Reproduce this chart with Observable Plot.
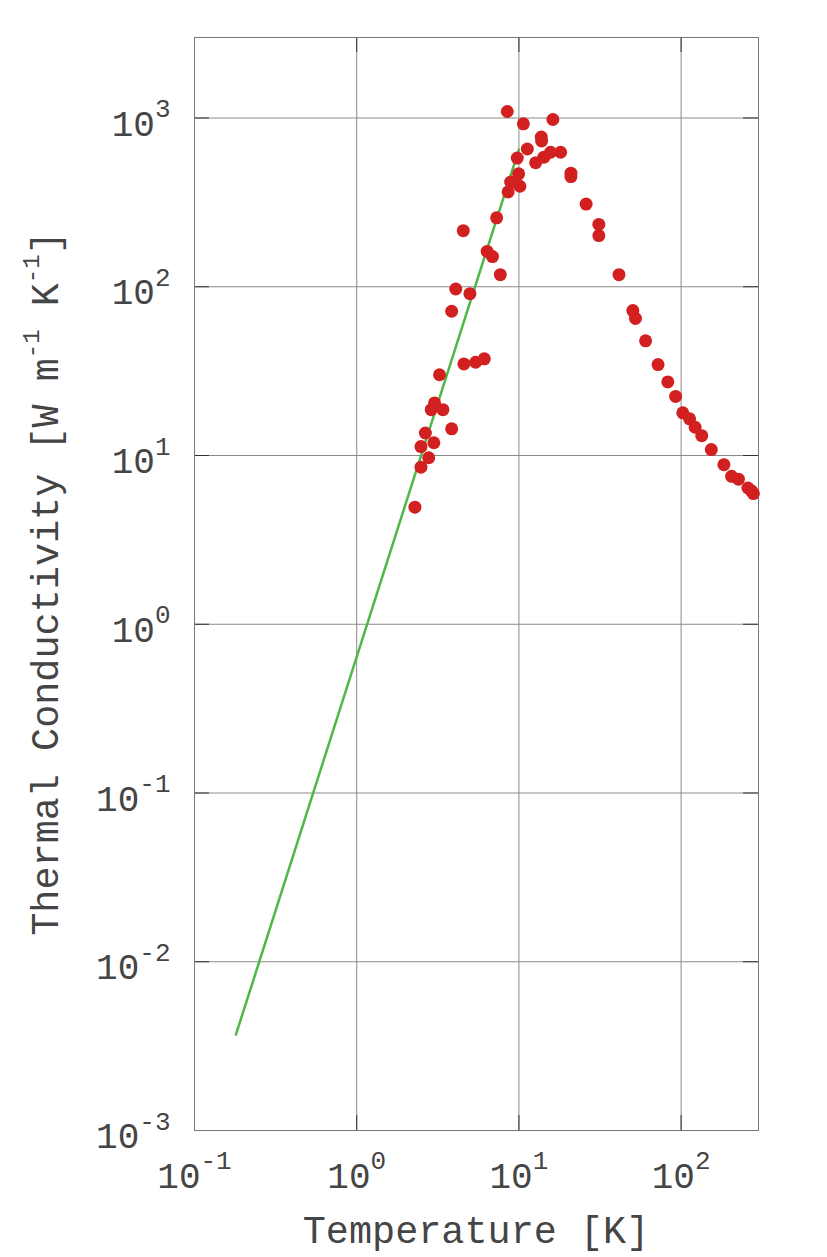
<!DOCTYPE html>
<html><head><meta charset="utf-8">
<script src="https://cdn.jsdelivr.net/npm/d3@7"></script>
<script src="https://cdn.jsdelivr.net/npm/@observablehq/plot@0.6"></script>
<style>html,body{margin:0;padding:0;background:#fff;} svg{display:block} text{white-space:pre}</style>
</head><body><div id="chart"></div>
<script>
// ---- data ----
const temperatureK = [8.48, 10.65, 16.2, 13.74, 13.8, 11.27, 9.77, 15.68, 18.08, 14.26,
  12.68, 20.93, 20.93, 9.96, 8.89, 10.14, 8.58, 25.96, 31.1, 31.1,
  7.29, 4.54, 6.37, 6.87, 7.68, 41.4, 4.08, 4.99, 3.85, 50.4,
  52.3, 60.4, 72.1, 82.8, 92.5, 102.4, 112.8, 122, 134, 153.5,
  183.6, 204.8, 225.6, 258.2, 271.3, 279.1, 4.58, 5.41, 6.12, 3.24,
  3.02, 2.88, 3.40, 3.85, 2.65, 2.99, 2.49, 2.78, 2.49, 2.285];
const conductivity = [1093, 924, 980, 772, 731, 655, 579, 627, 627, 586,
  543, 471, 450, 467, 417, 394, 365, 309, 234, 201,
  256, 215, 162, 151, 118, 118, 97, 91, 71.6, 72.3,
  64.9, 47.8, 34.6, 27.3, 22.4, 17.9, 16.5, 14.7, 13.1, 10.85,
  8.82, 7.53, 7.24, 6.42, 6.18, 5.95, 34.9, 35.7, 37.4, 30.1,
  20.5, 18.7, 18.7, 14.4, 13.6, 11.9, 11.3, 9.70, 8.53, 4.94];
const fitT = [0.18, 10];
const fitK = [0.0037, 650];
const xTicks = [0.1, 1, 10, 100];
const xTickLabels = ["10^-1", "10^0", "10^1", "10^2"];
const yTicks = [0.001, 0.01, 0.1, 1, 10, 100, 1000];
const yTickLabels = ["10^-3", "10^-2", "10^-1", "10^0", "10^1", "10^2", "10^3"];
const xTitle = "Temperature [K]";
const yTitle = "Thermal Conductivity [W m^-1 K^-1]";

const points = temperatureK.map((t, i) => ({t, k: conductivity[i]}));
const fit = fitT.map((t, i) => ({t, k: fitK[i]}));

// ---- layout ----
const W = 827, H = 1257, mL = 194, mR = 69, mT = 37, mB = 127;
const innerW = W - mL - mR, innerH = H - mT - mB;
const tickLen = 15;
const FONT = "'Liberation Mono', 'DejaVu Sans Mono', monospace";
const TEXT = "#454545";

const plot = Plot.plot({
  width: W, height: H,
  marginLeft: mL, marginRight: mR, marginTop: mT, marginBottom: mB,
  style: {fontFamily: FONT, fontSize: "36px", color: TEXT, background: "#fff", overflow: "visible"},
  x: {type: "log", domain: [0.1, 300], label: null},
  y: {type: "log", domain: [0.001, 3000], label: null},
  marks: [
    Plot.gridX(xTicks, {stroke: "#8a8a8a", strokeOpacity: 1, strokeWidth: 1}),
    Plot.gridY(yTicks, {stroke: "#8a8a8a", strokeOpacity: 1, strokeWidth: 1}),
    Plot.ruleX(xTicks, {stroke: "#333", insetTop: innerH - tickLen}),
    Plot.ruleX(xTicks, {stroke: "#333", insetBottom: innerH - tickLen}),
    Plot.ruleY(yTicks, {stroke: "#333", insetRight: innerW - tickLen}),
    Plot.ruleY(yTicks, {stroke: "#333", insetLeft: innerW - tickLen}),
    Plot.frame({stroke: "#777"}),
    Plot.line(fit, {x: "t", y: "k", stroke: "#4db848", strokeWidth: 2.5}),
    Plot.dot(points, {x: "t", y: "k", r: 6.5, fill: "#d22020", stroke: "none"}),
    Plot.axisX(xTicks, {anchor: "bottom", tickSize: 0, tickPadding: 0, fontSize: 36,
      tickFormat: d => xTickLabels[xTicks.indexOf(d)], label: null}),
    Plot.axisY(yTicks, {anchor: "left", tickSize: 0, tickPadding: 24, fontSize: 36,
      tickFormat: d => yTickLabels[yTicks.indexOf(d)], label: null})
  ]
});

document.getElementById("chart").appendChild(plot);

// ---- superscript rendering ----
function writeSup(textSel, str, supSize, rise) {
  textSel.text(null);
  const parts = str.split(/\^(-?\d+)/);
  let raised = false;
  parts.forEach((p, i) => {
    if (p === "") return;
    const ts = textSel.append("tspan").text(p);
    if (i % 2 === 1) {
      ts.attr("font-size", supSize).attr("dy", -rise);
      raised = true;
    } else if (raised) {
      ts.attr("dy", rise);
      raised = false;
    }
  });
}

const svg = d3.select(plot);
svg.selectAll("text").each(function() {
  const t = d3.select(this);
  const s = t.text();
  if (xTickLabels.includes(s) && this.closest('[aria-label="x-axis tick label"]')) {
    t.attr("y", 57).attr("dy", null).attr("fill", TEXT);
    writeSup(t, s, 26, 19);
  } else if (yTickLabels.includes(s)) {
    t.attr("y", 17.5).attr("dy", null).attr("fill", TEXT);
    writeSup(t, s, 26, 18.5);
  }
});

// axis titles
const xt = svg.append("text")
  .attr("x", mL + innerW / 2).attr("y", 1243)
  .attr("text-anchor", "middle").attr("font-family", FONT).attr("font-size", 38.5)
  .attr("fill", TEXT);
writeSup(xt, xTitle, 24, 19);

const yt = svg.append("text")
  .attr("transform", `translate(58,${mT + innerH / 2}) rotate(-90)`)
  .attr("text-anchor", "middle").attr("font-family", FONT).attr("font-size", 38.5)
  .attr("fill", TEXT);
writeSup(yt, yTitle, 24, 19);
</script>
</body></html>
